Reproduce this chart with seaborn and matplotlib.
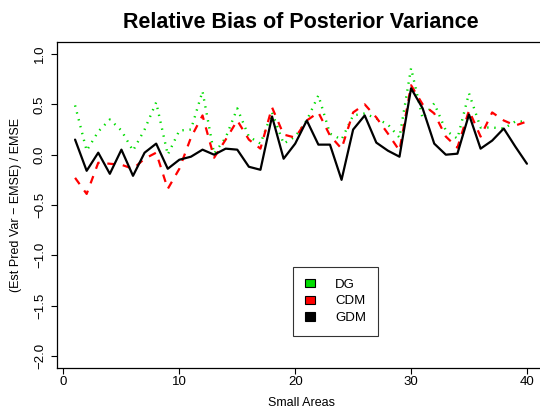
import matplotlib
matplotlib.use("Agg")
import matplotlib.pyplot as plt
from matplotlib.patches import Patch
import seaborn as sns
import pandas as pd
import numpy as np

areas = list(range(1, 41))
dg = [0.49, 0.04, 0.23, 0.35, 0.24, 0.04, 0.25, 0.52, 0.00, 0.24,
      0.25, 0.63, 0.01, 0.17, 0.46, 0.18, 0.11, 0.42, 0.11, 0.18,
      0.34, 0.59, 0.21, 0.15, 0.39, 0.41, 0.36, 0.30, 0.17, 0.86,
      0.36, 0.51, 0.24, 0.16, 0.61, 0.27, 0.27, 0.26, 0.33, 0.33]
cdm = [-0.23, -0.39, -0.08, -0.09, -0.10, -0.14, -0.04, 0.02, -0.34, -0.14,
       0.17, 0.39, -0.03, 0.15, 0.34, 0.15, 0.06, 0.47, 0.20, 0.17,
       0.34, 0.42, 0.19, 0.06, 0.42, 0.50, 0.37, 0.21, 0.04, 0.69,
       0.50, 0.41, 0.18, 0.07, 0.44, 0.18, 0.42, 0.34, 0.29, 0.33]
gdm = [0.15, -0.16, 0.02, -0.19, 0.05, -0.21, 0.02, 0.11, -0.14, -0.05,
       -0.02, 0.05, 0.00, 0.06, 0.05, -0.12, -0.15, 0.38, -0.04, 0.11,
       0.34, 0.10, 0.10, -0.25, 0.25, 0.39, 0.12, 0.04, -0.02, 0.66,
       0.46, 0.11, 0.00, 0.01, 0.40, 0.06, 0.14, 0.26, 0.08, -0.09]
series_names = ["DG", "CDM", "GDM"]
x_ticks = [0, 10, 20, 30, 40]
y_ticks = [-2.0, -1.5, -1.0, -0.5, 0.0, 0.5, 1.0]

sns.set_style("ticks")
plt.rcParams["font.family"] = ["Liberation Sans", "DejaVu Sans"]
plt.rcParams["text.color"] = "black"
plt.rcParams["axes.labelcolor"] = "black"
plt.rcParams["xtick.color"] = "black"
plt.rcParams["ytick.color"] = "black"

colors = {"DG": "#00DD00", "CDM": "#FF0000", "GDM": "#000000"}
styles = {"DG": (0, (0.6, 2.4)), "CDM": (0, (3.5, 3.5)), "GDM": "-"}
values = {"DG": dg, "CDM": cdm, "GDM": gdm}

fig = plt.figure(figsize=(5.4, 4.11), dpi=100)
ax = fig.add_axes([57/540, (411-368)/411, (545-57)/540, (368-42)/411])

for name in series_names:
    df = pd.DataFrame({"area": areas, "val": values[name]})
    sns.lineplot(data=df, x="area", y="val", ax=ax, color=colors[name],
                 linewidth=1.6 if name != "DG" else 1.7,
                 linestyle=styles[name], legend=False)

ax.set_xlim(-0.56, 41.56)
ax.set_ylim(-2.12, 1.12)
ax.set_xticks(x_ticks)
ax.set_xticklabels([str(t) for t in x_ticks])
ax.set_yticks(y_ticks)
ax.set_yticklabels([f"{t:.1f}".replace("-", "\u2212") for t in y_ticks],
                   rotation=90, va="center")
ax.tick_params(axis="both", labelsize=9.5, length=4, width=0.8, color="black",
               labelcolor="black", direction="out")
ax.tick_params(axis="x", pad=2)
ax.tick_params(axis="y", pad=4)
for s in ["left", "bottom", "top"]:
    ax.spines[s].set_visible(True)
    ax.spines[s].set_color("black")
    ax.spines[s].set_linewidth(0.9)
ax.spines["right"].set_visible(False)

ax.set_xlabel("Small Areas", fontsize=9, labelpad=6, color="black")
ax.set_ylabel("(Est Pred Var \u2212 EMSE) / EMSE", fontsize=9, color="black")
ax.yaxis.set_label_coords(-0.072, 0.5)
ax.set_title("Relative Bias of Posterior Variance", fontsize=15.5,
             fontweight="bold", pad=10, color="black")

handles = [Patch(facecolor=colors[n], edgecolor="black", linewidth=0.8) for n in series_names]
leg = ax.legend(handles, series_names, loc="upper left",
                bbox_to_anchor=((293-57)/488, (368-267)/326),
                fontsize=9.5, frameon=True, fancybox=False,
                edgecolor="black", handlelength=0.8, handleheight=0.6,
                handletextpad=1.5, labelspacing=0.35, borderpad=0.9,
                borderaxespad=0)
leg.get_frame().set_linewidth(0.8)
for t in leg.get_texts():
    t.set_color("black")

fig.savefig("out.png", dpi=100)
